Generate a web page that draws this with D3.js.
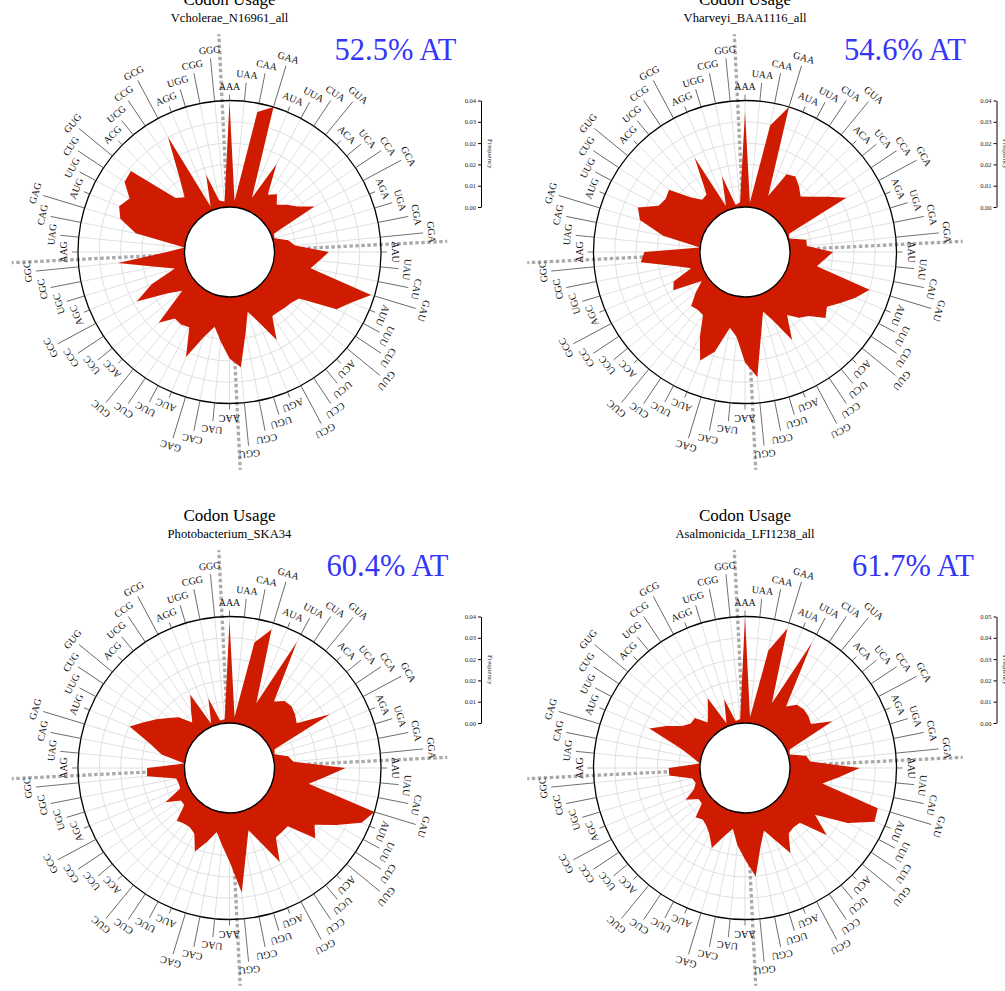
<!DOCTYPE html>
<html>
<head>
<meta charset="utf-8">
<script src="https://cdn.jsdelivr.net/npm/d3@7"></script>
<style>
body { margin: 0; background: #fff; }
</style>
</head>
<body>
<script>
// codons, first base varying fastest, third base slowest
var codons = [
  "AAA","UAA","CAA","GAA","AUA","UUA","CUA","GUA","ACA","UCA","CCA","GCA","AGA","UGA","CGA","GGA",
  "AAU","UAU","CAU","GAU","AUU","UUU","CUU","GUU","ACU","UCU","CCU","GCU","AGU","UGU","CGU","GGU",
  "AAC","UAC","CAC","GAC","AUC","UUC","CUC","GUC","ACC","UCC","CCC","GCC","AGC","UGC","CGC","GGC",
  "AAG","UAG","CAG","GAG","AUG","UUG","CUG","GUG","ACG","UCG","CCG","GCG","AGG","UGG","CGG","GGG"
];

var samples = ["Vcholerae_N16961_all", "Vharveyi_BAA1116_all", "Photobacterium_SKA34", "Asalmonicida_LFI1238_all"];
var atLabels = ["52.5% AT", "54.6% AT", "60.4% AT", "61.7% AT"];

var freqVcholerae = [
  0.0391,0.0023,0.0363,0.0396,0.0050,0.0203,0.0089,0.0111,0.0081,0.0110,0.0138,0.0191,0.0011,0.0008,0.0055,0.0078,
  0.0202,0.0168,0.0140,0.0383,0.0324,0.0284,0.0144,0.0130,0.0125,0.0120,0.0119,0.0204,0.0113,0.0065,0.0140,0.0263,
  0.0229,0.0167,0.0116,0.0164,0.0255,0.0150,0.0157,0.0153,0.0205,0.0060,0.0108,0.0224,0.0146,0.0045,0.0113,0.0250,
  0.0065,0.0001,0.0188,0.0257,0.0277,0.0254,0.0302,0.0307,0.0116,0.0096,0.0169,0.0318,0.0016,0.0133,0.0028,0.0021
];
var freqVharveyi = [
  0.0355,0.0018,0.0312,0.0396,0.0058,0.0161,0.0170,0.0149,0.0125,0.0156,0.0203,0.0260,0.0010,0.0005,0.0065,0.0064,
  0.0160,0.0129,0.0105,0.0317,0.0277,0.0235,0.0199,0.0220,0.0169,0.0149,0.0114,0.0204,0.0110,0.0064,0.0141,0.0300,
  0.0244,0.0150,0.0120,0.0220,0.0269,0.0188,0.0114,0.0110,0.0116,0.0069,0.0026,0.0135,0.0120,0.0042,0.0100,0.0222,
  0.0207,0.0001,0.0143,0.0241,0.0264,0.0197,0.0188,0.0198,0.0120,0.0084,0.0090,0.0230,0.0018,0.0127,0.0011,0.0019
];
var freqPhotobacterium = [
  0.0379,0.0023,0.0308,0.0371,0.0093,0.0364,0.0130,0.0155,0.0158,0.0148,0.0133,0.0257,0.0014,0.0008,0.0055,0.0072,
  0.0264,0.0188,0.0133,0.0396,0.0364,0.0282,0.0213,0.0245,0.0139,0.0140,0.0143,0.0229,0.0130,0.0075,0.0150,0.0299,
  0.0180,0.0120,0.0075,0.0119,0.0169,0.0110,0.0098,0.0100,0.0110,0.0050,0.0050,0.0103,0.0031,0.0030,0.0035,0.0141,
  0.0139,0.0001,0.0090,0.0140,0.0235,0.0194,0.0159,0.0126,0.0100,0.0051,0.0090,0.0142,0.0011,0.0103,0.0013,0.0015
];
var freqAsalmonicida = [
  0.0490,0.0028,0.0344,0.0464,0.0116,0.0446,0.0133,0.0169,0.0175,0.0170,0.0158,0.0249,0.0015,0.0008,0.0080,0.0095,
  0.0321,0.0227,0.0156,0.0431,0.0438,0.0329,0.0180,0.0280,0.0150,0.0145,0.0155,0.0236,0.0150,0.0094,0.0160,0.0295,
  0.0214,0.0150,0.0078,0.0120,0.0191,0.0140,0.0113,0.0100,0.0114,0.0050,0.0050,0.0102,0.0047,0.0030,0.0040,0.0143,
  0.0144,0.0002,0.0039,0.0100,0.0269,0.0203,0.0140,0.0116,0.0119,0.0064,0.0100,0.0157,0.0016,0.0123,0.0013,0.0020
];
var series = [freqVcholerae, freqVharveyi, freqPhotobacterium, freqAsalmonicida];

// layout of the four panels
var layout = [
  { cx: 229.5, cy: 252, atX: 105 },
  { cx: 745,   cy: 252, atX: 99 },
  { cx: 229.5, cy: 768, atX: 97 },
  { cx: 745,   cy: 768, atX: 107 }
];

var serif = "'Liberation Serif', 'Times New Roman', serif";
var innerR = 45, outerR = 151.5;
var labelR = [162.5, 175, 187.3, 199.6];   // by first base A,U,C,G

var svg = d3.select("body").append("svg")
  .attr("width", 1005)
  .attr("height", 991)
  .style("background", "#fff");

function drawPanel(p) {
  var L = layout[p], data = series[p];
  var max = d3.max(data);
  var r = d3.scaleLinear().domain([0, max]).range([innerR, outerR]);
  var ang = d3.scaleLinear().domain([0, codons.length]).range([0, 2 * Math.PI]);
  var ticks = d3.range(6).map(function(k) { return max * k / 5; });

  var g = svg.append("g").attr("transform", "translate(" + L.cx + "," + L.cy + ")");

  // grid
  g.selectAll("circle.grid").data(ticks.slice(1, 5)).enter().append("circle")
    .attr("r", function(d) { return r(d); })
    .attr("fill", "none").attr("stroke", "#dcdcdc").attr("stroke-width", 0.9);
  g.selectAll("line.spoke").data(codons).enter().append("line")
    .attr("x1", function(d, i) { return innerR * Math.sin(ang(i)); })
    .attr("y1", function(d, i) { return -innerR * Math.cos(ang(i)); })
    .attr("x2", function(d, i) { return outerR * Math.sin(ang(i)); })
    .attr("y2", function(d, i) { return -outerR * Math.cos(ang(i)); })
    .attr("stroke", "#dcdcdc").attr("stroke-width", 0.9);

  // quadrant separators
  g.selectAll("line.sep").data([0, 16, 32, 48]).enter().append("line")
    .attr("x1", 0).attr("y1", 0)
    .attr("x2", function(d) { return 218 * Math.sin(ang(d - 0.5)); })
    .attr("y2", function(d) { return -218 * Math.cos(ang(d - 0.5)); })
    .attr("stroke", "#aaaaaa").attr("stroke-width", 3.3)
    .attr("stroke-dasharray", "3.5,2.5");

  // frequency shape
  var line = d3.lineRadial()
    .angle(function(d, i) { return ang(i); })
    .radius(function(d) { return r(d); })
    .curve(d3.curveLinearClosed);
  g.append("path").datum(data)
    .attr("d", line)
    .attr("fill", "#cf1c00");

  g.append("circle").attr("r", innerR)
    .attr("fill", "#fff").attr("stroke", "#000").attr("stroke-width", 1.3);
  g.append("circle").attr("r", outerR)
    .attr("fill", "none").attr("stroke", "#000").attr("stroke-width", 1.3);

  // codon labels with leader lines
  var lab = g.selectAll("g.codon").data(codons).enter().append("g")
    .attr("transform", function(d, i) { return "rotate(" + (ang(i) * 180 / Math.PI) + ")"; });
  lab.append("line")
    .attr("x1", 0).attr("y1", -outerR)
    .attr("x2", 0).attr("y2", function(d, i) { return -(labelR[i % 4] - 5); })
    .attr("stroke", "#555").attr("stroke-width", 0.8);
  lab.append("text")
    .attr("x", 0).attr("y", function(d, i) { return -labelR[i % 4]; })
    .attr("text-anchor", "middle")
    .attr("font-family", serif).attr("font-size", "10px")
    .attr("fill", "#111")
    .text(function(d) { return d; });

  // titles
  g.append("text").attr("x", 0).attr("y", -247.5)
    .attr("text-anchor", "middle").attr("font-family", serif).attr("font-size", "17px")
    .text("Codon Usage");
  g.append("text").attr("x", 0).attr("y", -230.5)
    .attr("text-anchor", "middle").attr("font-family", serif).attr("font-size", "12.6px")
    .text(samples[p]);
  g.append("text").attr("x", L.atX).attr("y", -192)
    .attr("font-family", serif).attr("font-size", "30.5px")
    .attr("fill", "#3535f8")
    .text(atLabels[p]);

  // frequency axis
  var y = d3.scaleLinear().domain([0, max]).range([-innerR, -outerR]);
  var ax = g.append("g").attr("transform", "translate(251.5,0)")
    .call(d3.axisLeft(y).tickValues(ticks).tickFormat(d3.format(".2f")).tickSize(3).tickSizeOuter(0).tickPadding(2));
  ax.selectAll("text").attr("font-family", serif).attr("font-size", "6.5px").attr("fill", "#222");
  ax.select(".domain").attr("stroke-width", 1);
  g.append("text")
    .attr("transform", "translate(258," + (-(innerR + outerR) / 2) + ") rotate(90)")
    .attr("text-anchor", "middle")
    .attr("font-family", serif).attr("font-size", "7px").attr("fill", "#222")
    .text("Frequency");
}

for (var p = 0; p < 4; p++) drawPanel(p);
</script>
</body>
</html>
